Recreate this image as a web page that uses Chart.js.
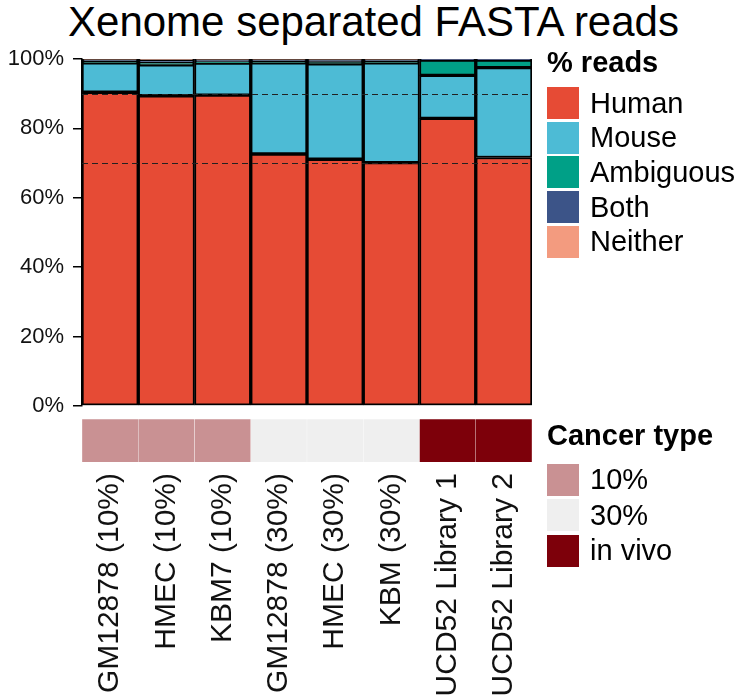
<!DOCTYPE html>
<html>
<head>
<meta charset="utf-8">
<script src="https://cdn.jsdelivr.net/npm/chart.js@4.4.0/dist/chart.umd.min.js"></script>
<style>
  body { margin: 0; background: #fff; font-family: "Liberation Sans", Arial, sans-serif; }
  #wrap { position: relative; width: 747px; height: 700px; overflow: hidden; }
  #title { position: absolute; left: 0; top: 0; width: 747px; text-align: center;
           font-size: 42px; line-height: 44px; color: #000; }
  .leg { position: absolute; left: 547px; color: #000; }
  .leg h3 { margin: 0; font-size: 29px; font-weight: bold; line-height: 34px; }
  .leg .row { display: flex; align-items: center; }
  .leg .sw { width: 32px; height: 32px; margin-right: 11px; }
  .leg span { font-size: 29px; }
  #legReads h3 { margin-bottom: 7px; }
  #legReads .row { height: 34.6px; }
  #legType h3 { margin-bottom: 10px; }
  #legType .row { height: 35.5px; }
  canvas { position: absolute; left: 0; }
</style>
</head>
<body>
<div id="wrap">
  <div id="title">Xenome separated FASTA reads</div>
  <canvas id="bars" width="747" height="428" style="top:0"></canvas>
  <canvas id="tiles" width="747" height="290" style="top:410px"></canvas>
  <div class="leg" id="legReads" style="top:45px"></div>
  <div class="leg" id="legType" style="top:418px"></div>
</div>
<script>
// données
const categories = ['GM12878 (10%)', 'HMEC (10%)', 'KBM7 (10%)', 'GM12878 (30%)',
                    'HMEC (30%)', 'KBM (30%)', 'UCD52 Library 1', 'UCD52 Library 2'];
const human     = [90.4, 89.4, 89.6, 72.6, 71.1, 70.1, 82.9, 71.6];
const mouse     = [8.5, 8.9, 9.2, 26.3, 27.5, 28.8, 12.4, 25.9];
const ambiguous = [0.3, 0.6, 0.3, 0.3, 0.5, 0.3, 4.4, 2.2];
const both      = [0.6, 0.8, 0.7, 0.6, 0.7, 0.6, 0.2, 0.2];
const neither   = [0.2, 0.3, 0.2, 0.2, 0.2, 0.2, 0.1, 0.1];
const cancerType = ['10%', '10%', '10%', '30%', '30%', '30%', 'in vivo', 'in vivo'];
const yTicks = [0, 20, 40, 60, 80, 100];
const refLines = [70, 90];

const seriesNames = ['Human', 'Mouse', 'Ambiguous', 'Both', 'Neither'];
const seriesColors = ['#E64B35', '#4DBBD5', '#00A087', '#3C5488', '#F39B7F'];
const typeNames = ['10%', '30%', 'in vivo'];
const typeColors = ['#C99193', '#EFEFEF', '#7D000A'];

const FONT = '"Liberation Sans", Arial, sans-serif';

// Lignes pointillées de référence
const refLinePlugin = {
    id: 'refLines',
    afterDatasetsDraw(chart) {
        const ctx = chart.ctx;
        const area = chart.chartArea;
        const y = chart.scales.y;
        ctx.save();
        ctx.strokeStyle = '#222';
        ctx.lineWidth = 1;
        ctx.setLineDash([6, 4]);
        refLines.forEach(v => {
            const py = Math.round(y.getPixelForValue(v)) + 0.5;
            ctx.beginPath();
            ctx.moveTo(area.left, py);
            ctx.lineTo(area.right, py);
            ctx.stroke();
        });
        ctx.restore();
    }
};

const seriesData = [human, mouse, ambiguous, both, neither];

new Chart(document.getElementById('bars'), {
    type: 'bar',
    data: {
        labels: categories,
        datasets: seriesData.map((d, i) => ({
            label: seriesNames[i],
            data: d,
            backgroundColor: seriesColors[i],
            borderColor: '#000',
            borderWidth: 2,
            borderSkipped: false,
            categoryPercentage: 1,
            barPercentage: 1
        }))
    },
    options: {
        responsive: false,
        animation: false,
        layout: { padding: { left: 0, right: 215, top: 59, bottom: 15 } },
        plugins: { legend: { display: false }, tooltip: { enabled: false } },
        scales: {
            x: { stacked: true, display: false },
            y: {
                stacked: true,
                min: 0,
                max: 100,
                afterBuildTicks: s => { s.ticks = yTicks.map(v => ({ value: v })); },
                afterFit: s => { s.width = 82; },
                ticks: {
                    callback: v => v + '%',
                    color: '#111',
                    font: { family: FONT, size: 22 },
                    padding: 9
                },
                grid: { drawOnChartArea: false, drawTicks: true, tickLength: 9, color: '#000', lineWidth: 1.5 },
                border: { display: true, color: '#000', width: 1.5 }
            }
        }
    },
    plugins: [refLinePlugin]
});

// Bande "Cancer type"
new Chart(document.getElementById('tiles'), {
    type: 'bar',
    data: {
        labels: categories,
        datasets: [{
            data: categories.map(() => 1),
            backgroundColor: cancerType.map(t => typeColors[typeNames.indexOf(t)]),
            borderColor: 'rgba(255,255,255,0.2)',
            borderWidth: 0.5,
            categoryPercentage: 1,
            barPercentage: 1
        }]
    },
    options: {
        responsive: false,
        animation: false,
        layout: { padding: { left: 82, right: 215, top: 9, bottom: 0 } },
        plugins: { legend: { display: false }, tooltip: { enabled: false } },
        scales: {
            y: { display: false, min: 0, max: 1 },
            x: {
                afterFit: s => { s.height = 238; },
                grid: { display: false },
                border: { display: false },
                ticks: {
                    minRotation: 90,
                    maxRotation: 90,
                    autoSkip: false,
                    color: '#111',
                    padding: 3,
                    font: { family: FONT, size: 30 }
                }
            }
        }
    }
});

// Légendes
function buildLegend(id, title, names, colors) {
    const el = document.getElementById(id);
    let html = '<h3>' + title + '</h3>';
    names.forEach((n, i) => {
        html += '<div class="row"><div class="sw" style="background:' + colors[i] + '"></div><span>' + n + '</span></div>';
    });
    el.innerHTML = html;
}
buildLegend('legReads', '% reads', seriesNames, seriesColors);
buildLegend('legType', 'Cancer type', typeNames, typeColors);
</script>
</body>
</html>
